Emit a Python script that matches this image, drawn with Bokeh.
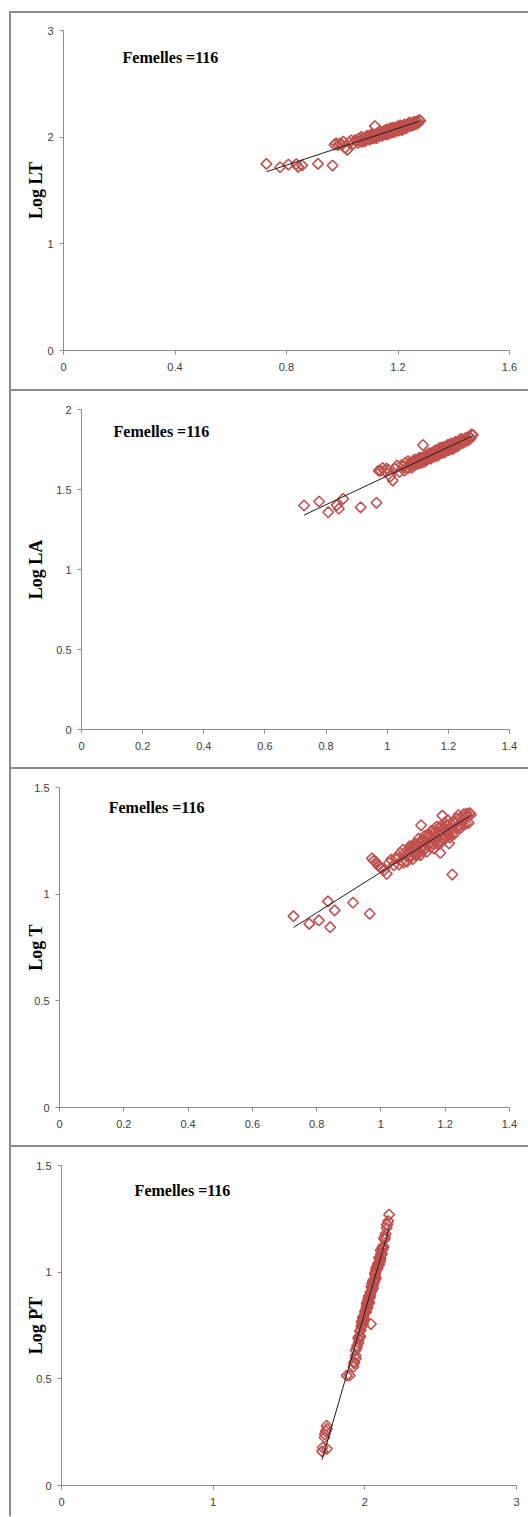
import numpy as np
from bokeh.plotting import figure
from bokeh.layouts import column, row
from bokeh.models import Range1d, FixedTicker, Label, Spacer
from bokeh.embed import file_html
from bokeh.resources import INLINE

# ---------------- data ----------------
log_ls = [0.728, 0.777, 0.807, 0.835, 0.842, 0.856, 0.913, 0.965,
          0.972, 0.978, 0.985, 0.991, 0.998, 1.004, 1.010, 1.018, 1.025, 1.032, 1.040, 1.047,
          1.052, 1.056, 1.060, 1.064, 1.068, 1.071, 1.074, 1.078, 1.081, 1.084, 1.087, 1.090,
          1.092, 1.095, 1.097, 1.099,
          1.101, 1.103, 1.105, 1.107, 1.109, 1.111, 1.113, 1.115, 1.117, 1.119, 1.121, 1.123,
          1.125, 1.127, 1.129, 1.131, 1.134, 1.136, 1.139, 1.141, 1.143, 1.145, 1.147, 1.149,
          1.151, 1.153, 1.155, 1.157, 1.159, 1.161, 1.163, 1.165, 1.167, 1.169, 1.171, 1.173,
          1.175, 1.177, 1.179, 1.181, 1.183, 1.185, 1.187, 1.189, 1.191, 1.193, 1.196, 1.198,
          1.200, 1.202, 1.204, 1.206, 1.208, 1.210, 1.212, 1.214, 1.216, 1.218, 1.220, 1.222,
          1.224, 1.226, 1.229, 1.232, 1.235, 1.238, 1.241, 1.244, 1.247, 1.249,
          1.252, 1.255, 1.258, 1.261, 1.264, 1.267, 1.270, 1.273, 1.276, 1.280]

log_lt = [1.750, 1.718, 1.743, 1.748, 1.722, 1.736, 1.750, 1.734,
          1.929, 1.941, 1.925, 1.939, 1.930, 1.958, 1.900, 1.881, 1.949, 1.971, 1.939, 1.973,
          1.967, 1.947, 1.987, 1.964, 2.002, 1.956, 1.989, 1.983, 1.960, 2.000, 1.979, 2.015,
          1.979, 1.999, 2.013, 1.977,
          2.009, 1.994, 2.026, 1.989, 2.007, 2.024, 1.988, 2.018, 2.104, 2.004, 2.029, 1.991,
          2.024, 2.040, 2.018, 2.007, 2.036, 2.054, 2.017, 2.035, 2.011, 2.050, 2.029, 2.056,
          2.034, 2.054, 2.024, 2.070, 2.048, 2.036, 2.070, 2.026, 2.059, 2.069, 2.046, 2.085,
          2.057, 2.043, 2.072, 2.086, 2.052, 2.072, 2.047, 2.088, 2.066, 2.085, 2.061, 2.101,
          2.082, 2.061, 2.098, 2.076, 2.111, 2.075, 2.098, 2.067, 2.106, 2.094, 2.079, 2.118,
          2.094, 2.111, 2.082, 2.112, 2.124, 2.100, 2.137, 2.111, 2.130, 2.105,
          2.127, 2.114, 2.144, 2.130, 2.119, 2.148, 2.144, 2.133, 2.160, 2.154]

log_la = [1.400, 1.425, 1.358, 1.402, 1.380, 1.442, 1.389, 1.417,
          1.618, 1.616, 1.634, 1.617, 1.630, 1.621, 1.581, 1.556, 1.629, 1.650, 1.610, 1.653,
          1.642, 1.618, 1.667, 1.635, 1.678, 1.635, 1.666, 1.660, 1.637, 1.678, 1.656, 1.687,
          1.657, 1.677, 1.687, 1.658,
          1.687, 1.668, 1.698, 1.668, 1.686, 1.698, 1.667, 1.697, 1.778, 1.683, 1.704, 1.674,
          1.703, 1.715, 1.694, 1.687, 1.712, 1.727, 1.697, 1.715, 1.693, 1.727, 1.708, 1.732,
          1.714, 1.731, 1.706, 1.745, 1.728, 1.716, 1.746, 1.710, 1.738, 1.746, 1.727, 1.761,
          1.737, 1.726, 1.751, 1.764, 1.735, 1.751, 1.731, 1.766, 1.747, 1.764, 1.744, 1.779,
          1.762, 1.746, 1.778, 1.758, 1.789, 1.759, 1.779, 1.753, 1.786, 1.777, 1.764, 1.797,
          1.778, 1.793, 1.768, 1.794, 1.805, 1.785, 1.817, 1.796, 1.812, 1.791,
          1.810, 1.800, 1.825, 1.815, 1.806, 1.831, 1.828, 1.819, 1.844, 1.841]

log_t = [0.897, 0.861, 0.877, 0.966, 0.845, 0.924, 0.960, 0.908,
         1.168, 1.157, 1.149, 1.134, 1.126, 1.121, 1.112, 1.095, 1.146, 1.162, 1.136, 1.171,
         1.167, 1.139, 1.193, 1.156, 1.208, 1.148, 1.194, 1.185, 1.152, 1.207, 1.176, 1.225,
         1.174, 1.203, 1.225, 1.164,
         1.216, 1.192, 1.236, 1.184, 1.213, 1.235, 1.184, 1.225, 1.260, 1.202, 1.239, 1.183,
         1.323, 1.254, 1.218, 1.203, 1.249, 1.273, 1.216, 1.247, 1.199, 1.269, 1.231, 1.280,
         1.237, 1.268, 1.220, 1.297, 1.259, 1.238, 1.296, 1.214, 1.273, 1.291, 1.250, 1.317,
         1.264, 1.235, 1.290, 1.314, 1.251, 1.193, 1.242, 1.317, 1.368, 1.307, 1.260, 1.335,
         1.297, 1.264, 1.323, 1.282, 1.347, 1.279, 1.238, 1.265, 1.331, 1.310, 1.282, 1.092,
         1.306, 1.336, 1.283, 1.333, 1.354, 1.309, 1.371, 1.327, 1.357, 1.312,
         1.349, 1.327, 1.375, 1.353, 1.330, 1.378, 1.368, 1.334, 1.380, 1.373]

log_pt = [0.172, 0.160, 0.255, 0.280, 0.178, 0.240, 0.265, 0.225,
          0.573, 0.595, 0.557, 0.609, 0.580, 0.670, 0.516, 0.515, 0.656, 0.699, 0.634, 0.729,
          0.723, 0.645, 0.786, 0.700, 0.818, 0.692, 0.754, 0.771, 0.685, 0.806, 0.767, 0.829,
          0.751, 0.778, 0.849, 0.743,
          0.833, 0.773, 0.888, 0.787, 0.813, 0.875, 0.789, 0.835, 1.102, 0.815, 0.858, 0.789,
          0.857, 0.757, 0.865, 0.814, 0.905, 0.926, 0.860, 0.891, 0.852, 0.923, 0.884, 0.961,
          0.881, 0.959, 0.873, 0.974, 0.948, 0.891, 0.996, 0.855, 0.963, 0.966, 0.935, 1.030,
          0.944, 0.931, 0.972, 1.039, 0.935, 1.006, 0.913, 1.040, 0.994, 1.017, 0.965, 1.055,
          1.030, 0.954, 1.066, 1.017, 1.085, 1.019, 1.047, 0.987, 1.085, 1.034, 1.021, 1.108,
          1.068, 1.083, 1.025, 1.111, 1.120, 1.070, 1.180, 1.090, 1.155, 1.064,
          1.157, 1.111, 1.207, 1.157, 1.121, 1.223, 1.222, 1.168, 1.270, 1.239]

annotation_text = "Femelles =116"
y_titles = ["Log LT", "Log LA", "Log T", "Log PT"]

x_ticks_1 = [0, 0.4, 0.8, 1.2, 1.6]
x_labels_1 = ["0", "0.4", "0.8", "1.2", "1.6"]
x_ticks_23 = [0, 0.2, 0.4, 0.6, 0.8, 1, 1.2, 1.4]
x_labels_23 = ["0", "0.2", "0.4", "0.6", "0.8", "1", "1.2", "1.4"]
x_ticks_4 = [0, 1, 2, 3]
x_labels_4 = ["0", "1", "2", "3"]
y_ticks_1 = [0, 1, 2, 3]
y_labels_1 = ["0", "1", "2", "3"]
y_ticks_2 = [0, 0.5, 1, 1.5, 2]
y_labels_2 = ["0", "0.5", "1", "1.5", "2"]
y_ticks_34 = [0, 0.5, 1, 1.5]
y_labels_34 = ["0", "0.5", "1", "1.5"]

assert len(log_ls) == len(log_lt) == len(log_la) == len(log_t) == len(log_pt)

# ---------------- styling / layout ----------------
MARKER_COLOR = "#C0504D"
AXIS_COLOR = "#8c8c8c"
TICK_TEXT = "#404040"
FRAME_COLOR = "#8c8c8c"
FIG_W = 517

panels = [
    dict(x=log_ls, y=log_lt, title=y_titles[0], xr=(0, 1.6), yr=(0, 3),
         xt=x_ticks_1, xl=x_labels_1, yt=y_ticks_1, yl=y_labels_1,
         h=376, mb=(52, 19, 17, 39), als=-2, ann=(0.212, 2.747)),
    dict(x=log_ls, y=log_la, title=y_titles[1], xr=(0, 1.4), yr=(0, 2),
         xt=x_ticks_23, xl=x_labels_23, yt=y_ticks_2, yl=y_labels_2,
         h=376, mb=(70, 19, 18, 38), als=7, ann=(0.105, 1.862)),
    dict(x=log_ls, y=log_t, title=y_titles[2], xr=(0, 1.4), yr=(0, 1.5),
         xt=x_ticks_23, xl=x_labels_23, yt=y_ticks_34, yl=y_labels_34,
         h=376, mb=(48, 19, 18, 38), als=-15, ann=(0.153, 1.406)),
    dict(x=log_lt, y=log_pt, title=y_titles[3], xr=(0, 3), yr=(0, 1.5),
         xt=x_ticks_4, xl=x_labels_4, yt=y_ticks_34, yl=y_labels_34,
         h=369, mb=(50, 12, 18, 31), als=-13, ann=(0.482, 1.382)),
]


def make_panel(cfg):
    left, right, top, bottom = cfg["mb"]
    p = figure(width=FIG_W, height=cfg["h"],
               x_range=Range1d(*cfg["xr"]), y_range=Range1d(*cfg["yr"]),
               output_backend="svg", toolbar_location=None,
               min_border_left=left, min_border_right=right,
               min_border_top=top, min_border_bottom=bottom,
               background_fill_color="white", border_fill_color="white",
               outline_line_color=None)
    p.grid.visible = False

    xa = p.xaxis[0]
    ya = p.yaxis[0]
    xa.ticker = FixedTicker(ticks=cfg["xt"])
    ya.ticker = FixedTicker(ticks=cfg["yt"])
    xa.major_label_overrides = {float(t): s for t, s in zip(cfg["xt"], cfg["xl"])}
    ya.major_label_overrides = {float(t): s for t, s in zip(cfg["yt"], cfg["yl"])}
    for ax in (xa, ya):
        ax.axis_line_color = AXIS_COLOR
        ax.axis_line_width = 1
        ax.major_tick_line_color = AXIS_COLOR
        ax.major_tick_in = 0
        ax.major_tick_out = 4
        ax.minor_tick_line_color = None
        ax.major_label_text_font = "Liberation Sans"
        ax.major_label_text_font_size = "11px"
        ax.major_label_text_color = TICK_TEXT
    xa.major_label_standoff = 8
    ya.major_label_standoff = 6

    ya.axis_label = cfg["title"]
    ya.axis_label_text_font = "Liberation Serif"
    ya.axis_label_text_font_style = "bold"
    ya.axis_label_text_font_size = "18px"
    ya.axis_label_text_color = "black"
    ya.axis_label_standoff = cfg["als"]

    p.scatter(cfg["x"], cfg["y"], marker="square", angle=np.pi / 4, size=7.5,
              fill_color=None, line_color=MARKER_COLOR, line_width=1.6)

    xs = np.array(cfg["x"])
    ys = np.array(cfg["y"])
    coef = np.polyfit(xs, ys, 1)
    lx = np.array([xs.min(), xs.max()])
    p.line(lx, np.polyval(coef, lx), line_color="#1e1e1e", line_width=1)

    p.add_layout(Label(x=cfg["ann"][0], y=cfg["ann"][1], text=annotation_text,
                       text_font="Liberation Serif", text_font_style="bold",
                       text_font_size="16px", text_color="black",
                       text_align="left", text_baseline="middle"))
    return p


def hline():
    return Spacer(width=FIG_W, height=2, styles={"background-color": FRAME_COLOR})


figs = [make_panel(c) for c in panels]
stack = [hline(), row(figs[0]), hline(), row(figs[1]), hline(), row(figs[2]),
         hline(), row(figs[3])]
inner = column(*stack, spacing=0)
inner_h = sum(c["h"] for c in panels) + 4 * 2
vline = Spacer(width=2, height=inner_h, styles={"background-color": FRAME_COLOR})
layout = column(Spacer(width=528, height=11),
                row(Spacer(width=9, height=inner_h), vline, inner, spacing=0),
                spacing=0)

open("out.html", "w").write(file_html(layout, INLINE))
